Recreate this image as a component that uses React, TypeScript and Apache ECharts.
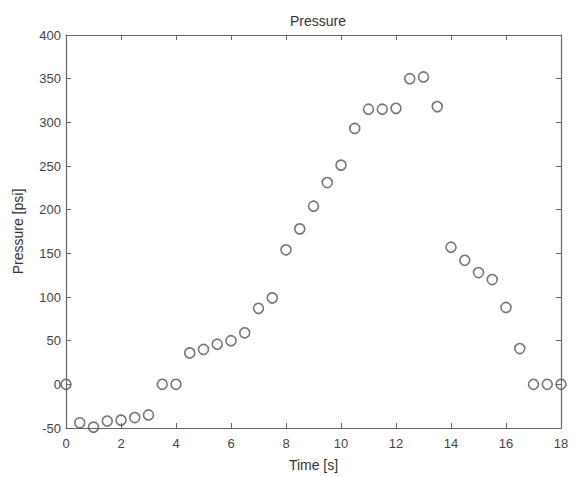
import React, { useEffect, useRef } from "react";
import * as echarts from "echarts";

const timeS = [0, 0.5, 1, 1.5, 2, 2.5, 3, 3.5, 4, 4.5, 5, 5.5, 6, 6.5, 7, 7.5, 8, 8.5, 9, 9.5, 10, 10.5, 11, 11.5, 12, 12.5, 13, 13.5, 14, 14.5, 15, 15.5, 16, 16.5, 17, 17.5, 18];
const pressurePsi = [0, -44, -49, -42, -41, -38, -35, 0, 0, 36, 40, 46, 50, 59, 87, 99, 154, 178, 204, 231, 251, 293, 315, 315, 316, 350, 352, 318, 157, 142, 128, 120, 88, 41, 0, 0, 0];

const FONT = "'Liberation Sans', Arial, sans-serif";
const AX = "#666";
const TXT = "#444";

export default function App() {
  const ref = useRef<HTMLDivElement>(null);
  useEffect(() => {
    if (!ref.current) return;
    const chart = echarts.init(ref.current, undefined, { renderer: "svg" });
    const axisCommon = {
      axisLine: { show: true, onZero: false, lineStyle: { color: AX, width: 1.2 } },
      axisTick: { show: true, inside: true, length: 5, lineStyle: { color: AX } },
      splitLine: { show: false },
    };
    chart.setOption({
      animation: false,
      backgroundColor: "#fff",
      title: {
        text: "Pressure",
        left: 313,
        top: 9,
        textAlign: "center",
        textStyle: { fontFamily: FONT, fontSize: 14, fontWeight: "normal", color: "#333" },
      },
      grid: { left: 66, right: 15, top: 35, bottom: 49, containLabel: false, outerBoundsMode: "none" },
      xAxis: [
        {
          type: "value",
          min: 0,
          max: 18,
          interval: 2,
          position: "bottom",
          name: "Time [s]",
          nameLocation: "middle",
          nameGap: 30,
          nameTextStyle: { fontFamily: FONT, fontSize: 14, color: "#333" },
          axisLabel: { fontFamily: FONT, fontSize: 13, color: TXT, margin: 9 },
          ...axisCommon,
        },
        {
          type: "value",
          min: 0,
          max: 18,
          interval: 2,
          position: "top",
          axisLabel: { show: false },
          ...axisCommon,
        },
      ],
      yAxis: [
        {
          type: "value",
          min: -50,
          max: 400,
          interval: 50,
          position: "left",
          name: "Pressure [psi]",
          nameLocation: "middle",
          nameGap: 41,
          nameTextStyle: { fontFamily: FONT, fontSize: 14, color: "#333" },
          axisLabel: { fontFamily: FONT, fontSize: 13, color: TXT, margin: 5 },
          ...axisCommon,
        },
        {
          type: "value",
          min: -50,
          max: 400,
          interval: 50,
          position: "right",
          axisLabel: { show: false },
          ...axisCommon,
        },
      ],
      series: [
        {
          type: "scatter",
          data: timeS.map((t, i) => [t, pressurePsi[i]]),
          symbol: "circle",
          symbolSize: 10,
          itemStyle: { color: "rgba(0,0,0,0)", borderColor: "#555", borderWidth: 1.6 },
          clip: false,
        },
      ],
    });
    return () => chart.dispose();
  }, []);
  return (
    <div
      ref={ref}
      style={{ position: "absolute", left: 0, top: 0, width: 576, height: 477 }}
    />
  );
}
